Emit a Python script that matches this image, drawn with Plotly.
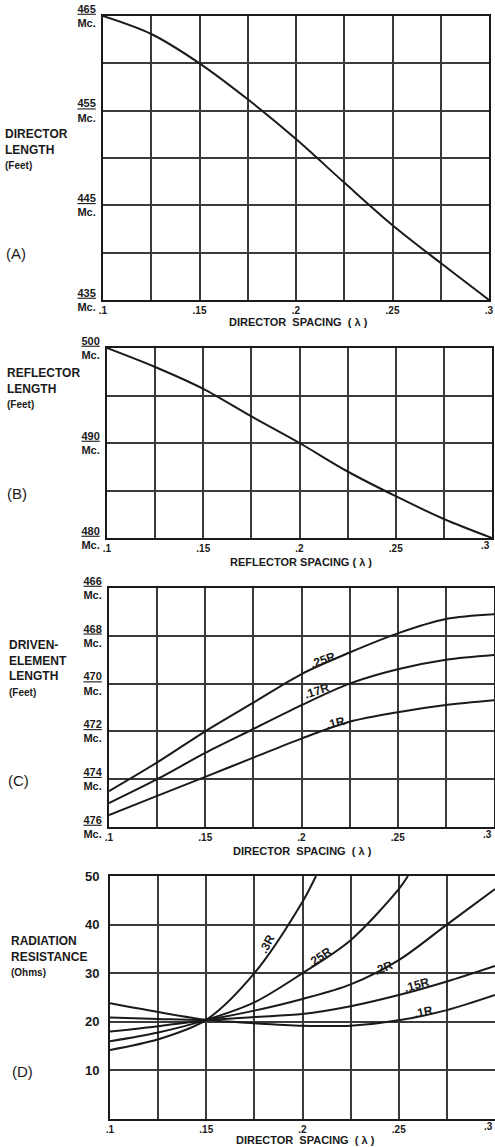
import plotly.graph_objects as go

W, H = 495, 1147

# ---------------- data ----------------
spacing = [0.1, 0.125, 0.15, 0.175, 0.2, 0.225, 0.25, 0.275, 0.3]
grid_x = [0.1, 0.125, 0.15, 0.175, 0.2, 0.225, 0.25, 0.275, 0.3]
x_ticktext = [".1", "", ".15", "", ".2", "", ".25", "", ".3"]

# (A) director length vs director spacing
director_len = [465, 463.1, 460.0, 456.2, 452.0, 447.4, 442.9, 438.9, 435]
a_tickvals = [435, 440, 445, 450, 455, 460, 465]
a_ticklabels = ["435", "", "445", "", "455", "", "465"]

# (B) reflector length vs reflector spacing
reflector_len = [500, 498.0, 495.7, 492.8, 490.0, 487.0, 484.4, 482.0, 480]
b_tickvals = [480, 485, 490, 495, 500]
b_ticklabels = ["480", "", "490", "", "500"]

# (C) driven-element length vs director spacing
driven_25R = [474.5, 473.3, 472.0, 470.8, 469.6, 468.7, 467.9, 467.3, 467.1]
driven_17R = [475.0, 474.0, 472.9, 471.9, 470.9, 470.0, 469.4, 469.0, 468.8]
driven_1R = [475.5, 474.7, 473.9, 473.1, 472.3, 471.6, 471.2, 470.9, 470.7]
c_tickvals = [466, 468, 470, 472, 474, 476]
c_ticklabels = ["466", "468", "470", "472", "474", "476"]

# (D) radiation resistance vs director spacing
rr_3R_x = [0.1, 0.125, 0.15, 0.175, 0.2, 0.207]
rr_3R = [14.2, 16.4, 20.4, 30.0, 44.7, 50.0]
rr_25R_x = [0.1, 0.125, 0.15, 0.175, 0.2, 0.225, 0.25, 0.2548]
rr_25R = [16.0, 17.8, 20.4, 24.0, 30.0, 36.8, 47.3, 50.0]
rr_2R = [18.0, 19.1, 20.4, 22.3, 24.7, 27.7, 32.7, 40.0, 47.3]
rr_15R = [20.9, 20.6, 20.4, 21.0, 21.6, 23.2, 25.5, 28.3, 31.5]
rr_1R = [23.8, 22.0, 20.4, 19.7, 19.2, 19.2, 20.3, 22.4, 25.5]
d_tickvals = [0, 10, 20, 30, 40, 50]
d_ticklabels = ["", "10", "20", "30", "40", "50"]

# ---------------- layout helpers ----------------
FONT = "Liberation Sans"
INK = "#1a1a1a"
GRID = "#3a3a3a"


def px_x(p):
    return p / W


def px_y(p):
    return 1 - p / H


def xdom(l, r):
    return [max(0.0, px_x(l)), min(1.0, px_x(r))]


def ydom(top, bottom):
    return [px_y(bottom), px_y(top)]


def mc(v):
    if v == "":
        return ""
    return f'<span style="text-decoration:underline">{v}</span><br>Mc.'


panels = {
    1: dict(x=xdom(103, 489), y=ydom(16, 300)),
    2: dict(x=xdom(107, 492), y=ydom(348, 538)),
    3: dict(x=xdom(109, 494), y=ydom(588, 827)),
    4: dict(x=xdom(110, 495), y=ydom(876, 1119)),
}

fig = go.Figure()
line = dict(color=INK, width=2, shape="spline", smoothing=0.9)

fig.add_trace(go.Scatter(x=spacing, y=director_len, mode="lines", line=line, xaxis="x", yaxis="y"))
fig.add_trace(go.Scatter(x=spacing, y=reflector_len, mode="lines", line=line, xaxis="x2", yaxis="y2"))
for ser in (driven_25R, driven_17R, driven_1R):
    fig.add_trace(go.Scatter(x=spacing, y=ser, mode="lines", line=line, xaxis="x3", yaxis="y3"))
fig.add_trace(go.Scatter(x=rr_3R_x, y=rr_3R, mode="lines", line=line, xaxis="x4", yaxis="y4"))
fig.add_trace(go.Scatter(x=rr_25R_x, y=rr_25R, mode="lines", line=line, xaxis="x4", yaxis="y4"))
for ser in (rr_2R, rr_15R, rr_1R):
    fig.add_trace(go.Scatter(x=spacing, y=ser, mode="lines", line=line, xaxis="x4", yaxis="y4"))

xtickfont = dict(family=FONT, size=10, color=INK, weight="bold")
ytickfont = dict(family=FONT, size=11, color=INK, weight="bold")

axis_common = dict(
    showgrid=True, gridcolor=GRID, gridwidth=1.6,
    showline=True, linecolor=INK, linewidth=2, mirror=True,
    zeroline=False, ticks="", automargin=False,
)

layout_axes = {}
y_specs = {
    1: dict(range=[435, 465], tickvals=a_tickvals, ticktext=[mc(t) for t in a_ticklabels]),
    2: dict(range=[480, 500], tickvals=b_tickvals, ticktext=[mc(t) for t in b_ticklabels]),
    3: dict(range=[476, 466], tickvals=c_tickvals, ticktext=[mc(t) for t in c_ticklabels]),
    4: dict(range=[0, 50], tickvals=d_tickvals, ticktext=d_ticklabels,
            tickfont=dict(family=FONT, size=13, color=INK, weight="bold"), ticklabelstandoff=6),
}
for i in range(1, 5):
    xs = "xaxis" if i == 1 else f"xaxis{i}"
    ys = "yaxis" if i == 1 else f"yaxis{i}"
    yname = "y" if i == 1 else f"y{i}"
    xname = "x" if i == 1 else f"x{i}"
    layout_axes[xs] = dict(axis_common, domain=panels[i]["x"], range=[0.1, 0.3],
                           tickvals=grid_x, ticktext=x_ticktext, anchor=yname,
                           tickfont=xtickfont, ticklabelstandoff=0)
    ys_spec = dict(axis_common, domain=panels[i]["y"], anchor=xname, ticklabelstandoff=3,
                   tickfont=ytickfont)
    ys_spec.update(y_specs[i])
    layout_axes[ys] = ys_spec

annotations = []


def ann(text, x, y, size=11, xanchor="left", yanchor="top", bold=True, **kw):
    annotations.append(dict(
        text=f"<b>{text}</b>" if bold else text, x=x, y=y, xref="paper", yref="paper",
        xanchor=xanchor, yanchor=yanchor, showarrow=False, align="left",
        font=dict(family=FONT, size=size, color=INK), **kw))


# axis titles
ann("DIRECTOR  SPACING  ( λ )", px_x(298), px_y(322), size=11, xanchor="center", yanchor="middle")
ann("REFLECTOR SPACING ( λ )", px_x(301), px_y(562), size=11, xanchor="center", yanchor="middle")
ann("DIRECTOR  SPACING  ( λ )", px_x(302), px_y(851), size=11, xanchor="center", yanchor="middle")
ann("DIRECTOR  SPACING  ( λ )", px_x(305), px_y(1140), size=11, xanchor="center", yanchor="middle")

# left side titles
ann("DIRECTOR<br>LENGTH<br><span style='font-size:10px'>(Feet)</span>", px_x(3), px_y(125), size=12)
ann("REFLECTOR<br>LENGTH<br><span style='font-size:10px'>(Feet)</span>", px_x(5), px_y(364), size=12)
ann("DRIVEN-<br>ELEMENT<br>LENGTH<br><span style='font-size:10px'>(Feet)</span>", px_x(7), px_y(636), size=12)
ann("RADIATION<br>RESISTANCE<br><span style='font-size:10px'>(Ohms)</span>", px_x(9), px_y(932), size=12)

# panel letters
ann("(A)", px_x(4), px_y(253), size=15, yanchor="middle", bold=False)
ann("(B)", px_x(5), px_y(493), size=15, yanchor="middle", bold=False)
ann("(C)", px_x(6), px_y(780), size=15, yanchor="middle", bold=False)
ann("(D)", px_x(10), px_y(1071), size=15, yanchor="middle", bold=False)

# last x tick label (".3") for panels whose right edge touches the page edge:
# plotly drops that tick label there, so it is drawn right-aligned at the axis end
for i in (2, 3, 4):
    annotations.append(dict(
        text=f"<b>{x_ticktext[-1]}</b>", x=grid_x[-1], xref=f"x{i}",
        y=0, yref=f"y{i} domain", xanchor="right", yanchor="top", showarrow=False,
        font=dict(family=FONT, size=10, color=INK)))


# curve labels in data coordinates
def curve_label(text, x, y, xref, yref, angle):
    annotations.append(dict(
        text=f"<b>{text}</b>", x=x, y=y, xref=xref, yref=yref, showarrow=False,
        textangle=angle, xanchor="center", yanchor="middle",
        font=dict(family=FONT, size=12, color=INK)))


curve_label(".25R", 0.2112, 469.0, "x3", "y3", -20)
curve_label(".17R", 0.2080, 470.3, "x3", "y3", -18)
curve_label(".1R", 0.2174, 471.65, "x3", "y3", -14)

curve_label(".3R", 0.1814, 36.1, "x4", "y4", -62)
curve_label(".25R", 0.2091, 33.3, "x4", "y4", -35)
curve_label(".2R", 0.2420, 31.1, "x4", "y4", -22)
curve_label(".15R", 0.2593, 27.6, "x4", "y4", -15)
curve_label(".1R", 0.2627, 22.0, "x4", "y4", -12)

fig.update_layout(
    template="none",
    width=W, height=H,
    margin=dict(l=0, r=0, t=0, b=0, autoexpand=False),
    paper_bgcolor="white", plot_bgcolor="white",
    showlegend=False,
    annotations=annotations,
    **layout_axes,
)

# remove the browser's default 8px page margin so the figure fills the window
fig.write_html("out.html", config={"displayModeBar": False},
               post_script="document.body.style.margin='0px';")
